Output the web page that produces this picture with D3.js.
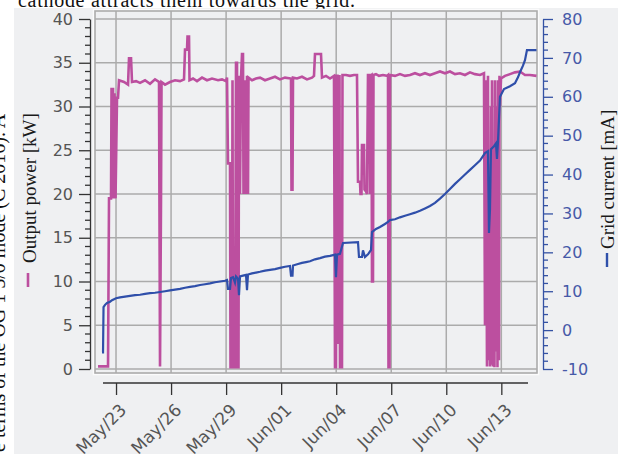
<!DOCTYPE html>
<html>
<head>
<meta charset="utf-8">
<script src="https://cdn.jsdelivr.net/npm/d3@7"></script>
<style>
  body { margin: 0; background: #fff; }
  svg { display: block; }
</style>
</head>
<body>
<div id="output"></div>
<script>
// Output power [kW], sampled along the trace (2016)
var powerTimes = [
  '05-22 00:28', '05-22 13:32', '05-22 14:50', '05-22 17:28', '05-22 18:07', '05-22 20:05', '05-22 20:44', '05-22 22:02',
  '05-22 23:21', '05-23 01:18', '05-23 02:37', '05-23 03:55', '05-23 10:28', '05-23 15:42', '05-23 17:00', '05-23 19:37',
  '05-23 20:56', '05-24 02:10', '05-24 07:23', '05-24 13:56', '05-24 20:28', '05-25 03:01', '05-25 08:14', '05-25 09:33',
  '05-25 10:51', '05-25 11:31', '05-25 16:05', '05-25 22:38', '05-26 05:10', '05-26 11:43', '05-26 16:56', '05-26 18:15',
  '05-26 20:52', '05-26 21:31', '05-26 23:29', '05-27 00:08', '05-27 04:43', '05-27 09:56', '05-27 16:29', '05-27 23:01',
  '05-28 05:34', '05-28 13:25', '05-28 18:38', '05-28 23:52', '05-29 01:11', '05-29 02:29', '05-29 05:06', '05-29 05:45',
  '05-29 07:43', '05-29 08:22', '05-29 09:01', '05-29 11:38', '05-29 12:57', '05-29 14:16', '05-29 14:55', '05-29 16:13',
  '05-29 16:52', '05-29 18:11', '05-29 19:29', '05-29 20:48', '05-29 22:06', '05-29 22:45', '05-30 00:04', '05-30 02:02',
  '05-30 03:20', '05-30 04:38', '05-30 05:18', '05-30 09:52', '05-30 15:07', '05-30 20:20', '05-31 02:53', '05-31 09:25',
  '05-31 15:58', '05-31 22:30', '06-01 05:02', '06-01 12:53', '06-01 13:32', '06-01 14:50', '06-01 15:30', '06-01 20:44',
  '06-02 03:16', '06-02 09:49', '06-02 16:21', '06-02 18:58', '06-02 20:16', '06-03 04:07', '06-03 05:26', '06-03 10:40',
  '06-03 15:53', '06-03 21:07', '06-03 22:26', '06-03 23:44', '06-04 00:23', '06-04 01:42', '06-04 02:21', '06-04 03:40',
  '06-04 04:19', '06-04 04:58', '06-04 07:35', '06-04 08:14', '06-04 12:49', '06-04 18:03', '06-04 23:17', '06-05 03:12',
  '06-05 04:31', '06-05 07:08', '06-05 07:47', '06-05 09:05', '06-05 09:44', '06-05 12:22', '06-05 13:01', '06-05 14:59',
  '06-05 16:17', '06-05 17:35', '06-05 19:33', '06-05 20:13', '06-05 20:52', '06-05 22:10', '06-05 22:49', '06-06 00:08',
  '06-06 00:47', '06-06 04:03', '06-06 07:59', '06-06 13:13', '06-06 18:26', '06-06 19:45', '06-06 20:24', '06-06 21:43',
  '06-06 22:22', '06-07 04:54', '06-07 11:26', '06-07 17:59', '06-08 00:31', '06-08 07:04', '06-08 13:36', '06-08 20:08',
  '06-09 02:41', '06-09 09:13', '06-09 15:46', '06-09 22:18', '06-10 04:50', '06-10 11:23', '06-10 17:55', '06-11 00:28',
  '06-11 07:00', '06-11 13:32', '06-11 20:05', '06-12 01:19', '06-12 02:37', '06-12 03:56', '06-12 05:14', '06-12 06:33',
  '06-12 07:12', '06-12 07:51', '06-12 09:10', '06-12 10:28', '06-12 11:07', '06-12 11:46', '06-12 13:05', '06-12 14:23',
  '06-12 15:02', '06-12 15:42', '06-12 17:00', '06-12 18:19', '06-12 18:58', '06-12 19:37', '06-12 20:56', '06-12 21:35',
  '06-12 22:14', '06-12 23:32', '06-13 04:46', '06-13 11:19', '06-13 17:51', '06-14 00:23', '06-14 06:56', '06-14 13:28',
  '06-14 22:00'
];
var powerValues = [
  0.3, 0.3, 19.5, 19.5, 32, 32, 19.5, 31.5,
  19.5, 31, 31, 33, 32.8, 32.5, 35.5, 35.5,
  32.8, 32.9, 32.7, 33.0, 32.6, 33.1, 32.8, 0.3,
  19.5, 32.8, 32.5, 32.8, 33, 32.9, 33.1, 36.5,
  36.5, 38, 38, 33, 33.2, 32.9, 33.3, 33,
  33.2, 33, 33.1, 32.9, 33.3, 23.5, 23.5, 0.2,
  0.2, 33, 0.2, 0.2, 35, 35, 0.2, 0.2,
  33.5, 20, 33.2, 36, 36, 20, 33, 20,
  33.5, 20, 33.3, 33, 33.2, 33.3, 33, 33.2,
  33.4, 33.1, 33.3, 33.2, 20.5, 20.5, 33.3, 33.2,
  33.4, 33.1, 33.3, 33.5, 36, 36, 33.3, 33.5,
  33.2, 33.5, 0.2, 0.2, 33.5, 33.5, 3, 3,
  33.6, 0.2, 0.2, 33.6, 33.6, 33.5, 33.6, 33.6,
  21.4, 21.4, 20, 20, 25.6, 25.6, 20.5, 20.3,
  20, 33.6, 33.6, 20, 33.5, 33.6, 10, 10,
  33.6, 33.7, 33.5, 33.6, 33.5, 33.6, 0.2, 0.2,
  33.6, 33.5, 33.7, 33.5, 33.6, 33.8, 33.6, 33.8,
  33.6, 33.8, 34, 33.8, 34, 33.7, 33.8, 33.6,
  33.9, 33.7, 33.6, 33.8, 5, 33, 0.3, 33.5,
  1, 20, 0.3, 30, 0.5, 33, 0.3, 25,
  0.2, 33, 2, 30, 0.2, 33, 1, 33.5,
  30, 33.2, 33.5, 33.7, 33.9, 34, 33.6, 33.6,
  33.5
];

// Grid current [mA]
var currentTimes = [
  '05-22 05:41', '05-22 07:00', '05-22 07:39', '05-22 09:37', '05-22 12:14', '05-22 16:09', '05-22 18:46', '05-23 00:00',
  '05-23 05:14', '05-23 11:46', '05-23 18:19', '05-24 00:51', '05-24 07:23', '05-24 13:56', '05-24 20:28', '05-25 03:01',
  '05-25 09:33', '05-25 16:05', '05-25 22:38', '05-26 05:10', '05-26 11:43', '05-26 18:15', '05-27 00:47', '05-27 07:19',
  '05-27 13:52', '05-27 20:24', '05-28 02:56', '05-28 09:29', '05-28 16:01', '05-28 22:34', '05-29 01:11', '05-29 02:29',
  '05-29 05:06', '05-29 06:25', '05-29 09:01', '05-29 11:38', '05-29 12:57', '05-29 15:34', '05-29 16:52', '05-29 18:11',
  '05-29 22:06', '05-30 02:02', '05-30 03:20', '05-30 04:38', '05-30 09:52', '05-30 15:07', '05-30 20:20', '05-31 02:53',
  '05-31 09:25', '05-31 15:58', '05-31 22:30', '06-01 05:02', '06-01 11:34', '06-01 12:53', '06-01 14:50', '06-01 15:30',
  '06-01 22:02', '06-02 03:16', '06-02 08:30', '06-02 13:44', '06-02 20:16', '06-03 02:49', '06-03 09:21', '06-03 15:53',
  '06-03 22:26', '06-03 23:44', '06-04 01:03', '06-04 04:58', '06-04 08:54', '06-05 04:31', '06-05 05:49', '06-05 09:44',
  '06-05 11:03', '06-05 13:40', '06-05 17:35', '06-05 21:31', '06-05 22:49', '06-06 04:03', '06-06 09:17', '06-06 15:50',
  '06-06 19:45', '06-06 22:22', '06-07 04:54', '06-07 11:26', '06-07 17:59', '06-08 00:31', '06-08 07:04', '06-08 13:36',
  '06-08 20:08', '06-09 02:41', '06-09 09:13', '06-09 15:46', '06-09 22:18', '06-10 04:50', '06-10 11:23', '06-10 17:55',
  '06-11 00:28', '06-11 07:00', '06-11 13:32', '06-11 20:05', '06-12 02:37', '06-12 06:33', '06-12 07:51', '06-12 09:10',
  '06-12 10:28', '06-12 14:23', '06-12 17:00', '06-12 18:19', '06-12 19:37', '06-12 22:14', '06-13 03:28', '06-13 11:19',
  '06-13 17:51', '06-13 21:46', '06-14 00:23', '06-14 04:19', '06-14 06:56', '06-14 09:33', '06-14 22:00'
];
var currentValues = [
  -5.7, -5.7, 5.9, 6.5, 7, 7.3, 7.7, 8.2,
  8.4, 8.6, 8.8, 9, 9.1, 9.3, 9.5, 9.6,
  9.8, 10, 10.2, 10.4, 10.6, 10.9, 11.1, 11.3,
  11.6, 11.8, 12.0, 12.3, 12.5, 12.7, 12.9, 10.6,
  10.6, 13.4, 13.6, 12.2, 13.8, 13.2, 9, 13.8,
  14, 14.2, 10.3, 14.3, 14.6, 14.8, 15, 15.3,
  15.5, 15.7, 16, 16.3, 16.5, 14, 14, 16.6,
  17, 17.3, 17.5, 17.7, 18.2, 18.5, 18.9, 19.1,
  19.4, 13.6, 19.4, 19.6, 22.4, 22.6, 18.8, 18.8,
  20.5, 18.8, 19.5, 20.6, 25.2, 26, 26.5, 27.3,
  27.8, 28.3, 28.5, 29, 29.4, 29.8, 30.2, 30.7,
  31.3, 31.9, 32.7, 33.8, 35, 36.3, 37.6, 38.8,
  40, 41.2, 42.4, 43.6, 45.5, 46, 25, 31,
  46.5, 47.3, 48, 44, 48.3, 60, 62, 62.7,
  63.5, 65, 66.3, 68, 69.4, 72, 72
];

var dateTicks = ['05-23', '05-26', '05-29', '06-01', '06-04', '06-07', '06-10', '06-13'];
var timeExtent = ['05-21 20:30', '06-14 22:40'];
var powerTicks = [0, 5, 10, 15, 20, 25, 30, 35, 40];
var currentTicks = [-10, 0, 10, 20, 30, 40, 50, 60, 70, 80];

var parseTime = d3.timeParse('%Y-%m-%d %H:%M');
var parseDay = d3.timeParse('%Y-%m-%d');
function t(s) { return parseTime('2016-' + s); }

function render() {
  var width = 618;
  var height = 454;
  var plot = { left: 95, right: 537, top: 11, bottom: 373 };

  var magenta = '#bc4f9f';
  var blue = '#2f4faa';
  var grid = '#ababab';

  var svg = d3.select('#output')
  .append('svg')
  .attr('width', width)
  .attr('height', height)
  .style('font-family', "'DejaVu Sans', sans-serif");

  svg.append('rect').attr('width', width).attr('height', height).attr('fill', '#fff');
  // figure panel
  svg.append('rect').attr('x', 14).attr('y', 8).attr('width', width - 14).attr('height', height - 8).attr('fill', '#eff0f2');

  // surrounding page text, cut off by the crop
  svg.append('text')
  .attr('x', 18).attr('y', 7)
  .attr('font-family', "'Liberation Serif', serif")
  .attr('font-size', 20)
  .attr('fill', '#111')
  .attr('textLength', 337)
  .text('cathode attracts them towards the grid.');

  svg.append('text')
  .attr('transform', 'translate(5, 452) rotate(-90)')
  .attr('font-family', "'Liberation Serif', serif")
  .attr('font-size', 20)
  .attr('fill', '#111')
  .text('e terms of the OG 1 5/0 mode (C 2016). A');

  var x = d3.scaleTime()
  .domain(timeExtent.map(t))
  .range([plot.left, plot.right]);

  var yPower = d3.scaleLinear().domain([0, 40]).range([369, 19]);
  var yCurrent = d3.scaleLinear().domain([-10, 80]).range([369, 19]);

  // plot frame
  svg.append('rect')
  .attr('x', plot.left - 1).attr('y', plot.top - 1)
  .attr('width', plot.right - plot.left + 2).attr('height', plot.bottom - plot.top + 2)
  .attr('fill', '#eff0f2').attr('stroke', '#fbfbfc').attr('stroke-width', 2.5);
  svg.append('rect')
  .attr('x', plot.left).attr('y', plot.top)
  .attr('width', plot.right - plot.left).attr('height', plot.bottom - plot.top)
  .attr('fill', 'none').attr('stroke', grid).attr('stroke-width', 1.6);

  // grid lines
  svg.append('g').selectAll('line').data(powerTicks).join('line')
  .attr('x1', plot.left).attr('x2', plot.right)
  .attr('y1', (d) => yPower(d)).attr('y2', (d) => yPower(d))
  .attr('stroke', grid).attr('stroke-width', 1.5);

  svg.append('g').selectAll('line').data(dateTicks).join('line')
  .attr('x1', (d) => x(parseDay('2016-' + d))).attr('x2', (d) => x(parseDay('2016-' + d)))
  .attr('y1', plot.top).attr('y2', plot.bottom)
  .attr('stroke', grid).attr('stroke-width', 1.5);

  svg.append('clipPath').attr('id', 'clip')
  .append('rect')
  .attr('x', plot.left).attr('y', plot.top)
  .attr('width', plot.right - plot.left).attr('height', plot.bottom - plot.top);

  var power = powerTimes.map((d, i) => [t(d), powerValues[i]]);
  var current = currentTimes.map((d, i) => [t(d), currentValues[i]]);

  var lines = svg.append('g').attr('clip-path', 'url(#clip)');

  lines.append('path')
  .datum(power)
  .attr('fill', 'none')
  .attr('stroke', magenta)
  .attr('stroke-width', 2.6)
  .attr('d', d3.line().x((d) => x(d[0])).y((d) => yPower(d[1])));

  lines.append('path')
  .datum(current)
  .attr('fill', 'none')
  .attr('stroke', blue)
  .attr('stroke-width', 2.2)
  .attr('d', d3.line().x((d) => x(d[0])).y((d) => yCurrent(d[1])));

  // left axis
  var leftAxis = svg.append('g')
  .attr('transform', 'translate(90, 0)')
  .call(d3.axisLeft(yPower).tickValues(powerTicks).tickSize(11).tickPadding(6).tickSizeOuter(0));
  leftAxis.selectAll('line,path').attr('stroke', '#333').attr('stroke-width', 1.3);
  leftAxis.selectAll('text').attr('fill', '#555').attr('font-size', 16).attr('font-family', "'DejaVu Sans', sans-serif");
  leftAxis.append('g').selectAll('line').data(d3.range(0, 41, 1).filter((d) => d % 5 !== 0)).join('line')
  .attr('x1', -5).attr('x2', 0)
  .attr('y1', (d) => yPower(d)).attr('y2', (d) => yPower(d))
  .attr('stroke', '#333').attr('stroke-width', 1.3);

  // right axis
  var rightAxis = svg.append('g')
  .attr('transform', 'translate(543, 0)')
  .call(d3.axisRight(yCurrent).tickValues(currentTicks).tickSize(10).tickPadding(9).tickSizeOuter(0)
    .tickFormat((d) => String(d)));
  rightAxis.selectAll('line,path').attr('stroke', '#3452a4').attr('stroke-width', 1.3);
  rightAxis.selectAll('text').attr('fill', '#4659a8').attr('font-size', 16).attr('font-family', "'DejaVu Sans', sans-serif");
  rightAxis.append('g').selectAll('line').data(d3.range(-10, 81, 2).filter((d) => d % 10 !== 0)).join('line')
  .attr('x1', 0).attr('x2', 5)
  .attr('y1', (d) => yCurrent(d)).attr('y2', (d) => yCurrent(d))
  .attr('stroke', '#3452a4').attr('stroke-width', 1.3);

  // bottom axis
  var bottomAxis = svg.append('g')
  .attr('transform', 'translate(0, 383)')
  .call(d3.axisBottom(x).tickValues(dateTicks.map((d) => parseDay('2016-' + d)))
    .tickSize(12).tickSizeOuter(0).tickFormat(d3.timeFormat('%b/%d')));
  bottomAxis.select('.domain').attr('d', `M${plot.left + 8},0H${plot.right - 9}`);
  bottomAxis.selectAll('line,path').attr('stroke', '#333').attr('stroke-width', 1.3);
  bottomAxis.selectAll('text')
  .attr('fill', '#555').attr('font-size', 17).attr('font-family', "'DejaVu Sans', sans-serif")
  .attr('text-anchor', 'end')
  .attr('x', 0).attr('y', 0).attr('dy', 0)
  .attr('transform', 'translate(11, 28) rotate(-45)');

  // axis titles with their legend markers
  svg.append('line')
  .attr('x1', 28).attr('x2', 28).attr('y1', 273).attr('y2', 287)
  .attr('stroke', magenta).attr('stroke-width', 2.6);
  svg.append('text')
  .attr('transform', 'translate(36, 263) rotate(-90)')
  .attr('font-family', "'Liberation Serif', serif")
  .attr('font-size', 19)
  .attr('fill', '#1a1a1a')
  .text('Output power [kW]');

  svg.append('line')
  .attr('x1', 607).attr('x2', 607).attr('y1', 253).attr('y2', 267)
  .attr('stroke', blue).attr('stroke-width', 2.4);
  svg.append('text')
  .attr('transform', 'translate(614, 249) rotate(-90)')
  .attr('font-family', "'Liberation Serif', serif")
  .attr('font-size', 19)
  .attr('fill', '#1a1a1a')
  .text('Grid current [mA]');
}

document.addEventListener('DOMContentLoaded', render);
</script>
</body>
</html>
